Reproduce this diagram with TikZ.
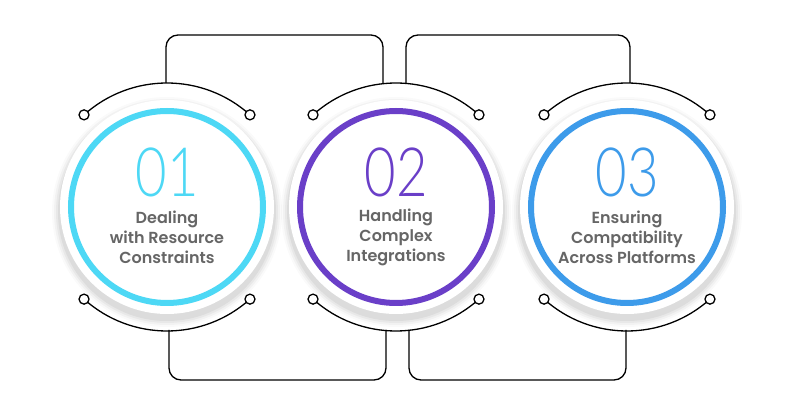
\documentclass[tikz,border=0pt]{standalone}
\usepackage{fontspec}
\setsansfont{Poppins}
\newfontfamily\numfont{Lato Light}
\newfontfamily\lblfont{Poppins SemiBold}
\definecolor{cA}{HTML}{4DD8F5}
\definecolor{cB}{HTML}{6A3FC8}
\definecolor{cC}{HTML}{3D9BEA}
\definecolor{txt}{HTML}{666666}
\begin{document}
\begin{tikzpicture}[x=1pt,y=-1pt,
  wire/.style={black,line width=1.3pt},
  dot/.style={circle,draw=black,line width=1.3pt,fill=white,minimum size=10pt,inner sep=0pt},
  lbl/.style={text=txt,font=\lblfont\fontsize{16}{20}\selectfont,align=center}]
\useasboundingbox (0,0) rectangle (785,411);
\fill[white] (0,0) rectangle (785,411);
% connectors
\draw[wire,rounded corners=12pt] (166,83) -- (166,35) -- (383,35) -- (383,83);
\draw[wire,rounded corners=12pt] (406,83) -- (406,35) -- (630,35) -- (630,83);
\draw[wire,rounded corners=12pt] (169,330) -- (169,380) -- (386,380) -- (386,330);
\draw[wire,rounded corners=12pt] (409,330) -- (409,380) -- (626,380) -- (626,330);
\foreach \cx/\col/\num/\name/\txt in {167/cA/01/a/{Dealing\\with Resource\\Constraints},396/cB/02/b/{Handling\\Complex\\Integrations},627/cC/03/c/{Ensuring\\Compatibility\\Across Platforms}}{
  \coordinate (\name) at (\cx,207);
  % shadow
  \foreach \r/\o in {115/0.02,113/0.03,111/0.04,109/0.05}
    \fill[black,opacity=\o] ([yshift=-5pt]\name) circle (\r);
  \fill[white] (\name) circle (107);
  % arcs
  \draw[wire] ([shift={(132:124)}]\name) arc[start angle=132,end angle=48,radius=124];
  \draw[wire] ([shift={(228:124)}]\name) arc[start angle=228,end angle=312,radius=124];
  \node[dot] (\name tl) at ([shift={(132:124)}]\name) {};
  \node[dot] (\name tr) at ([shift={(48:124)}]\name) {};
  \node[dot] (\name bl) at ([shift={(228:124)}]\name) {};
  \node[dot] (\name br) at ([shift={(312:124)}]\name) {};
  \draw[\col,line width=6pt] (\name) circle (96);
  \node[text=\col,font=\numfont\fontsize{68}{68}\selectfont,xscale=0.8] (\name num) at ([yshift=35pt]\name) {\num};
  \node[lbl] (\name lbl) at ([yshift=-30pt]\name) {\txt};
}
\end{tikzpicture}
\end{document}
